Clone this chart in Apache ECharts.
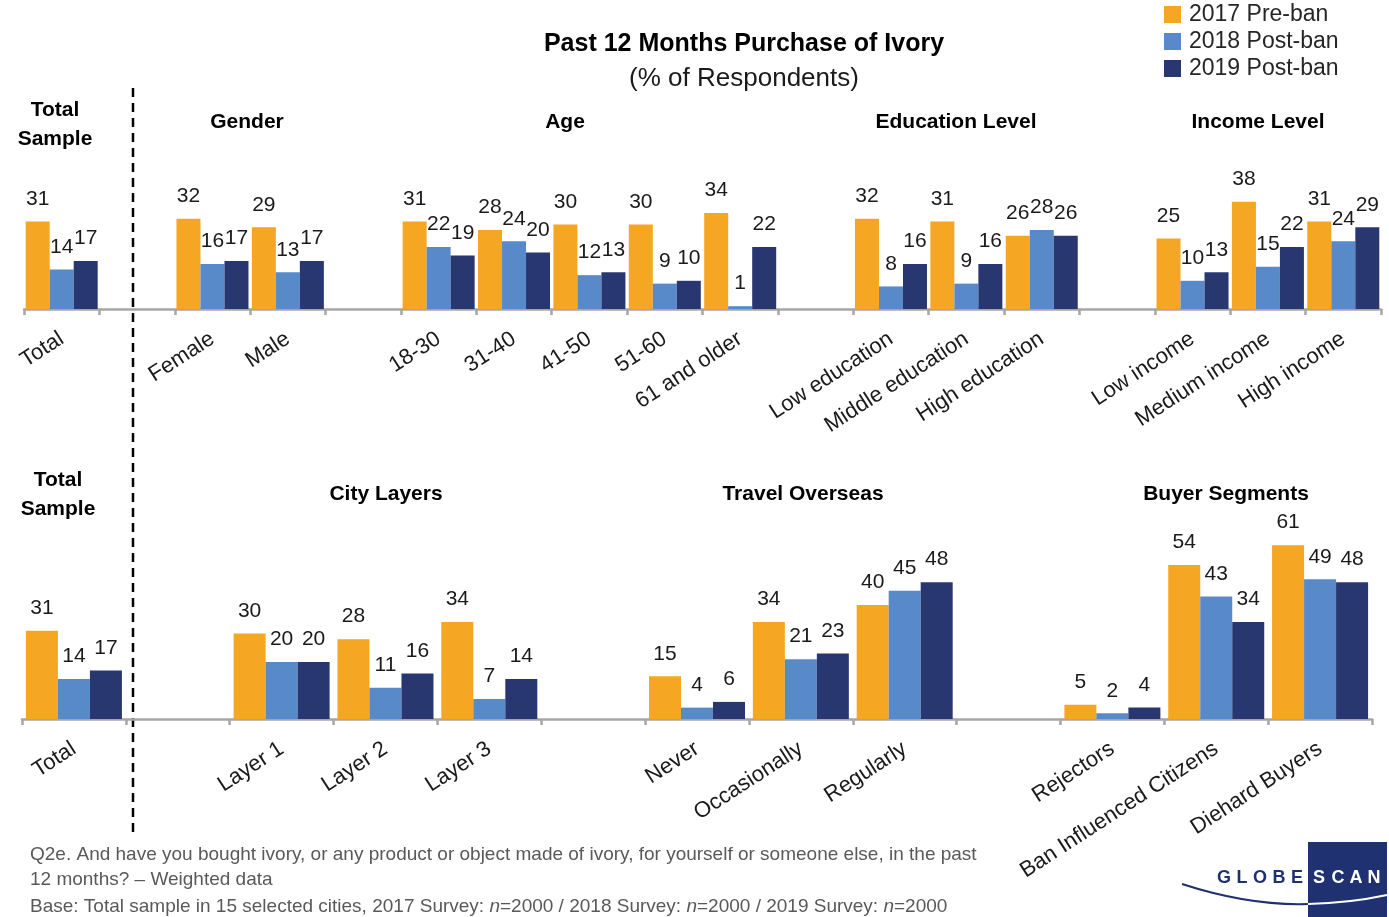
<!DOCTYPE html>
<html>
<head>
<meta charset="utf-8">
<script src="https://cdn.jsdelivr.net/npm/echarts@6/dist/echarts.min.js"></script>
<style>
  html, body { margin: 0; padding: 0; background: #fff; }
  #chart { width: 1389px; height: 917px; }
</style>
</head>
<body>
<div id="chart"></div>
<script>
// top row: total, gender, age, education, income
var topCategories = ['Total', 'Female', 'Male', '18-30', '31-40', '41-50', '51-60', '61 and older',
  'Low education', 'Middle education', 'High education', 'Low income', 'Medium income', 'High income'];
var topGroupSizes = [1, 2, 5, 3, 3];
var top2017 = [31, 32, 29, 31, 28, 30, 30, 34, 32, 31, 26, 25, 38, 31];
var top2018 = [14, 16, 13, 22, 24, 12, 9, 1, 8, 9, 28, 10, 15, 24];
var top2019 = [17, 17, 17, 19, 20, 13, 10, 22, 16, 16, 26, 13, 22, 29];

// bottom row: total, city layers, travel overseas, buyer segments
var bottomCategories = ['Total', 'Layer 1', 'Layer 2', 'Layer 3', 'Never', 'Occasionally', 'Regularly',
  'Rejectors', 'Ban Influenced Citizens', 'Diehard Buyers'];
var bottomGroupSizes = [1, 3, 3, 3];
var bottom2017 = [31, 30, 28, 34, 15, 34, 40, 5, 54, 61];
var bottom2018 = [14, 20, 11, 7, 4, 21, 45, 2, 43, 49];
var bottom2019 = [17, 20, 16, 14, 6, 23, 48, 4, 34, 48];

var seriesNames = ['2017 Pre-ban', '2018 Post-ban', '2019 Post-ban'];
var colors = ['#F5A623', '#5889C9', '#293770'];
var FONT = 'Liberation Sans';

// put an empty category between the groups
function withGaps(arr, sizes, isCat) {
  var out = [], k = 0;
  sizes.forEach(function (n, g) {
    if (g > 0) out.push(isCat ? ' '.repeat(g) : '-');
    for (var i = 0; i < n; i++) out.push(arr[k++]);
  });
  return out;
}

function makeSeries(name, data, color, idx, barWidth) {
  return {
    name: name,
    type: 'bar',
    xAxisIndex: idx,
    yAxisIndex: idx,
    data: data,
    barWidth: barWidth,
    barGap: '0%',
    itemStyle: { color: color },
    label: {
      show: true, position: 'top', distance: 12,
      fontSize: 21, color: '#1a1a1a', fontFamily: FONT
    }
  };
}

function xAxisFor(idx, cats, sizes) {
  return {
    type: 'category',
    gridIndex: idx,
    data: withGaps(cats, sizes, true),
    axisLine: { lineStyle: { color: '#A6A6A6', width: 2.5 } },
    axisTick: { show: true, interval: 0, length: 6, lineStyle: { color: '#A6A6A6', width: 2.5 } },
    axisLabel: { interval: 0, rotate: 33, margin: 28, fontSize: 22, color: '#1a1a1a', fontFamily: FONT }
  };
}

function header(x, y, txt) {
  return {
    type: 'text', x: x, y: y,
    style: {
      text: txt, fill: '#000', font: 'bold 21px "' + FONT + '"',
      align: 'center', verticalAlign: 'middle', lineHeight: 29
    }
  };
}

var myChart = echarts.init(document.getElementById('chart'));

var series = [];
[top2017, top2018, top2019].forEach(function (d, i) {
  series.push(makeSeries(seriesNames[i], withGaps(d, topGroupSizes, false), colors[i], 0, 24));
});
[bottom2017, bottom2018, bottom2019].forEach(function (d, i) {
  series.push(makeSeries(seriesNames[i], withGaps(d, bottomGroupSizes, false), colors[i], 1, 32));
});

var option = {
  animation: false,
  title: {
    text: 'Past 12 Months Purchase of Ivory',
    subtext: '(% of Respondents)',
    left: 739, top: 27, textAlign: 'center', itemGap: 9,
    textStyle: { fontSize: 25, fontWeight: 'bold', color: '#000', fontFamily: FONT },
    subtextStyle: { fontSize: 26, color: '#1a1a1a', fontFamily: FONT }
  },
  legend: {
    data: seriesNames,
    orient: 'vertical',
    left: 1164, top: 3, padding: 0,
    itemWidth: 17, itemHeight: 17, itemGap: 4,
    icon: 'rect',
    textStyle: { fontSize: 23, color: '#262626', fontFamily: FONT, padding: [0, 0, 0, 3] }
  },
  grid: [
    { left: 24, right: 8, top: 168, height: 141 },
    { left: 22, right: 17, top: 519.5, height: 199.5 }
  ],
  xAxis: [
    xAxisFor(0, topCategories, topGroupSizes),
    xAxisFor(1, bottomCategories, bottomGroupSizes)
  ],
  yAxis: [
    { type: 'value', gridIndex: 0, min: 0, max: 50, show: false, splitLine: { show: false } },
    { type: 'value', gridIndex: 1, min: 0, max: 70, show: false, splitLine: { show: false } }
  ],
  series: series,
  graphic: [
    // dashed separator
    { type: 'line', shape: { x1: 133, y1: 88, x2: 133, y2: 836 },
      style: { stroke: '#000', lineWidth: 2.5, lineDash: [9, 6] } },
    header(55, 125, 'Total\nSample'),
    header(247, 122, 'Gender'),
    header(565, 122, 'Age'),
    header(956, 122, 'Education Level'),
    header(1258, 122, 'Income Level'),
    header(58, 495, 'Total\nSample'),
    header(386, 494, 'City Layers'),
    header(803, 494, 'Travel Overseas'),
    header(1226, 494, 'Buyer Segments'),
    // footnote
    { type: 'text', x: 30, y: 842,
      style: {
        text: 'Q2e. And have you bought ivory, or any product or object made of ivory, for yourself or someone else, in the past\n12 months? \u2013 Weighted data',
        fill: '#595959', font: '19px "' + FONT + '"', lineHeight: 25
      } },
    { type: 'text', x: 30, y: 897,
      style: {
        text: 'Base: Total sample in 15 selected cities, 2017 Survey: {i|n}=2000 / 2018 Survey: {i|n}=2000 / 2019 Survey: {i|n}=2000',
        fill: '#595959', font: '19px "' + FONT + '"',
        rich: { i: { fontStyle: 'italic', fontSize: 19, fill: '#595959', fontFamily: FONT } }
      } },
    // GlobeScan logo
    { type: 'bezierCurve', shape: { x1: 1182, y1: 884, cpx1: 1250, cpy1: 906, x2: 1308, y2: 904 },
      style: { stroke: '#1F3170', lineWidth: 2, fill: null } },
    { type: 'rect', shape: { x: 1308, y: 842, width: 79, height: 75 }, style: { fill: '#1F3170' } },
    { type: 'bezierCurve', shape: { x1: 1308, y1: 904, cpx1: 1350, cpy1: 903, x2: 1387, y2: 895 },
      style: { stroke: '#fff', lineWidth: 2, fill: null } }
  ]
};

// logo letters, spaced out one by one
var logoLetters = ['G', 'L', 'O', 'B', 'E', 'S', 'C', 'A', 'N'];
var logoX = [1224, 1242, 1260, 1279, 1297, 1319, 1338, 1356, 1374];
logoLetters.forEach(function (ch, i) {
  option.graphic.push({
    type: 'text', x: logoX[i], y: 878,
    style: {
      text: ch, fill: i < 5 ? '#1F3170' : '#fff',
      font: 'bold 18px "' + FONT + '"', align: 'center', verticalAlign: 'middle'
    }
  });
});

myChart.setOption(option);
</script>
</body>
</html>
